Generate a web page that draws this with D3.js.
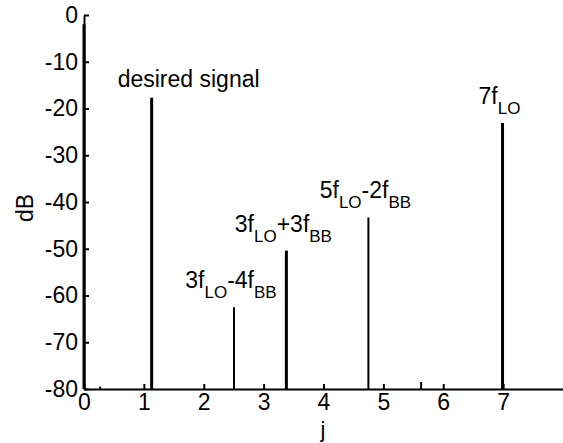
<!DOCTYPE html>
<html>
<head>
<meta charset="utf-8">
<script src="https://cdn.jsdelivr.net/npm/d3@7"></script>
<style>
  body { margin: 0; background: #fff; }
  svg { font-family: Arial, "Liberation Sans", sans-serif; }
</style>
</head>
<body>
<div id="chart"></div>
<script>
// spectrum lines: position j and level in dB
var stemJ  = [0,  0.27,  1.13, 2.505, 3.38, 4.75, 5.63, 6.99];
var stemDb = [-2, -79.5, -17.7, -62.5, -50.4, -43.3, -78.5, -23.1];

// labelled lines (index into the arrays above), with main/sub text parts
var labelIdx = [2, 3, 4, 5, 7];
var labelParts = [
  [["desired signal", 0]],
  [["3f", 0], ["LO", 1], ["-4f", 0], ["BB", 1]],
  [["3f", 0], ["LO", 1], ["+3f", 0], ["BB", 1]],
  [["5f", 0], ["LO", 1], ["-2f", 0], ["BB", 1]],
  [["7f", 0], ["LO", 1]]
];

var xTicks = [0, 1, 2, 3, 4, 5, 6, 7];
var yTicks = [0, -10, -20, -30, -40, -50, -60, -70, -80];

var width = 563, height = 443;
var svg = d3.select('#chart').append('svg')
    .attr('width', width)
    .attr('height', height);

var x = d3.scaleLinear().domain([0, 8]).range([84, 563]);
var y = d3.scaleLinear().domain([0, -80]).range([15, 389]);

// stems
var thin = {3: true, 5: true, 1: true, 6: true};
svg.selectAll('line.stem')
    .data(stemJ)
    .enter()
    .append('line')
    .attr('class', 'stem')
    .attr('x1', function(d) { return x(d); })
    .attr('x2', function(d) { return x(d); })
    .attr('y1', y(-80))
    .attr('y2', function(d, i) { return y(stemDb[i]); })
    .attr('stroke', '#000')
    .attr('stroke-width', function(d, i) { return thin[i] ? 2 : 3; });

// axes, ticks pointing inward
var xAxis = svg.append('g')
    .attr('transform', 'translate(0,' + y(-80) + ')')
    .call(d3.axisBottom(x).tickValues(xTicks).tickFormat(d3.format('d'))
        .tickSizeInner(-5).tickSizeOuter(0));
xAxis.selectAll('text')
    .attr('y', 5)
    .attr('dy', '0.71em');

var yAxis = svg.append('g')
    .attr('transform', 'translate(' + x(0) + ',0)')
    .call(d3.axisLeft(y).tickValues(yTicks).tickFormat(d3.format('d'))
        .tickSizeInner(-5).tickSizeOuter(0));
yAxis.selectAll('text')
    .attr('x', -6)
    .attr('dy', '0.32em');

svg.selectAll('.domain, .tick line')
    .attr('stroke', '#000')
    .attr('stroke-width', 2);
svg.selectAll('.tick text')
    .attr('fill', '#000')
    .style('font-size', '23px')
    .text(function(d) { return String(d); });

// axis titles
svg.append('text')
    .attr('x', 323)
    .attr('y', 437)
    .attr('text-anchor', 'middle')
    .style('font-size', '22px')
    .text('j');

svg.append('text')
    .attr('transform', 'translate(33,208) rotate(-90)')
    .attr('text-anchor', 'middle')
    .style('font-size', '23px')
    .text('dB');

// annotations
labelIdx.forEach(function(si, k) {
    var parts = labelParts[k];
    var hasSub = parts.length > 1;
    var t = svg.append('text')
        .attr('x', x(stemJ[si]) + (hasSub ? -3 : -34))
        .attr('y', y(stemDb[si]) - (hasSub ? 19 : 11))
        .attr('text-anchor', hasSub ? 'middle' : 'start')
        .style('font-size', '23px');
    parts.forEach(function(p) {
        t.append('tspan')
            .attr('dy', p[1] ? 10 : (t.selectAll('tspan').size() > 1 ? -10 : 0))
            .style('font-size', p[1] ? '17px' : '23px')
            .text(p[0]);
    });
});
</script>
</body>
</html>
